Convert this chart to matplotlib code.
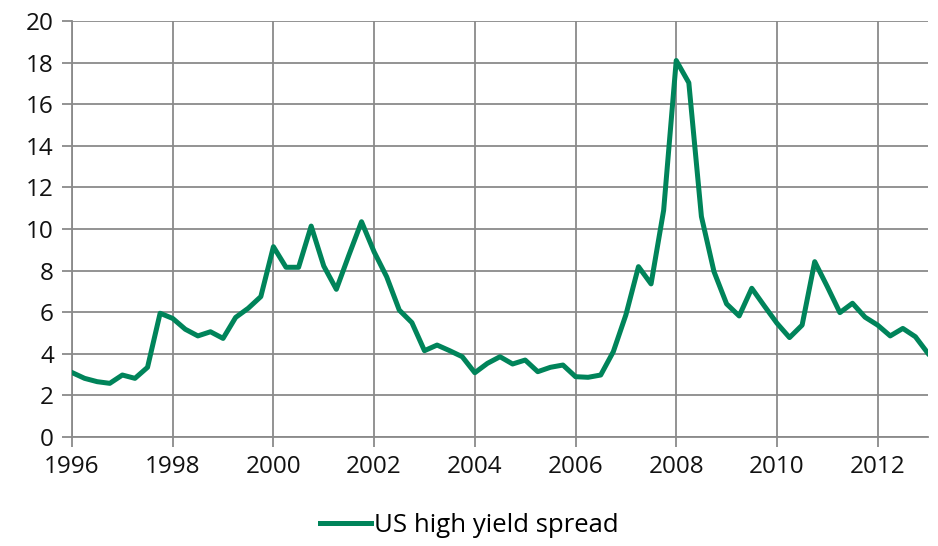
import numpy as np
import matplotlib
matplotlib.use("Agg")
import matplotlib.pyplot as plt

# quarterly US high yield spread, 1996Q1 .. 2013Q1
start_year = 1996
spread = [
    3.1, 2.82, 2.66, 2.58,
    2.98, 2.82, 3.35, 5.95,
    5.7, 5.18, 4.86, 5.06,
    4.74, 5.75, 6.19, 6.75,
    9.15, 8.16, 8.16, 10.14,
    8.22, 7.1, 8.75, 10.35,
    8.9, 7.7, 6.1, 5.5,
    4.15, 4.42, 4.15, 3.86,
    3.09, 3.54, 3.86, 3.51,
    3.7, 3.14, 3.35, 3.46,
    2.9, 2.87, 2.98, 4.1,
    5.87, 8.19, 7.36, 10.9,
    18.1, 17.03, 10.6, 7.95,
    6.4, 5.82, 7.15, 6.3,
    5.47, 4.78, 5.38, 8.43,
    7.23, 5.98, 6.43, 5.76,
    5.38, 4.86, 5.22, 4.82,
    4.02,
]
x_ticks = [1996, 1998, 2000, 2002, 2004, 2006, 2008, 2010, 2012]
y_ticks = list(range(0, 21, 2))
series_name = "US high yield spread"

plt.rcParams['font.family'] = ['Open Sans', 'DejaVu Sans']
grid_col = '#8a8a8a'
green = '#00845a'

t = start_year + np.arange(len(spread)) / 4.0

fig = plt.figure(figsize=(9.38, 5.46), dpi=100)
ax = fig.add_axes([72 / 938, 1 - 437 / 546, (928 - 72) / 938, (437 - 21) / 546])

ax.plot(t, spread, color=green, lw=3.6, solid_joinstyle='round', label=series_name, zorder=3)

ax.set_xlim(1996, 2013)
ax.set_ylim(0, 20)
ax.set_xticks(x_ticks)
ax.set_yticks(y_ticks)
ax.grid(True, color=grid_col, lw=1.3)
ax.set_axisbelow(True)
for s in ['top', 'right']:
    ax.spines[s].set_visible(False)
for s in ['left', 'bottom']:
    ax.spines[s].set_color(grid_col)
    ax.spines[s].set_linewidth(1.3)
ax.tick_params(axis='both', colors=grid_col, width=1.3, length=7, labelsize=17.5, labelcolor='#111111')
ax.tick_params(axis='x', pad=6)
ax.tick_params(axis='y', pad=6)

fig.legend(loc='center', bbox_to_anchor=(0.5, 1 - 525 / 546), frameon=False, fontsize=18.5,
           handlelength=2.0, handletextpad=0.1)

fig.savefig('out.png', dpi=100)
